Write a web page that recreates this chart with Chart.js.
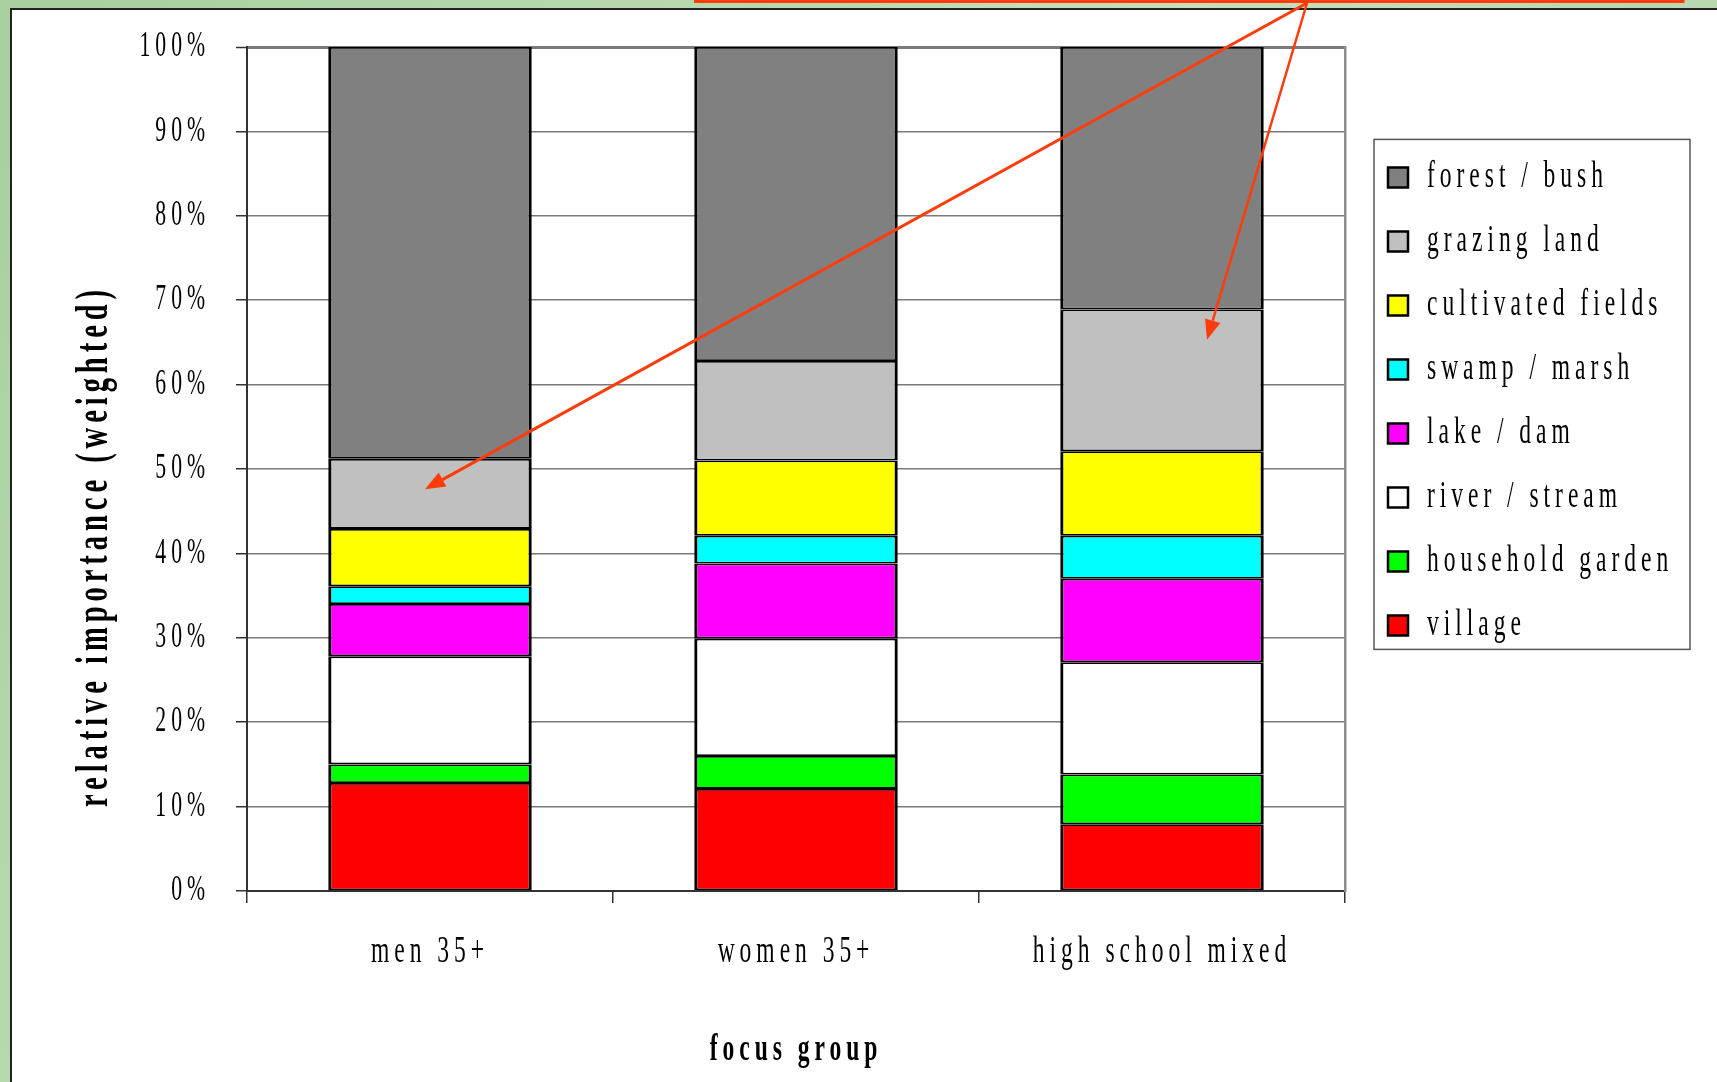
<!DOCTYPE html>
<html>
<head>
<meta charset="utf-8">
<title>relative importance by focus group</title>
<script src="https://cdn.jsdelivr.net/npm/chart.js@4/dist/chart.umd.min.js"></script>
<style>
  html, body { margin: 0; padding: 0; overflow: hidden; background: #b7d6ae; }
  canvas { display: block; }
</style>
</head>
<body>
<canvas id="landscape" width="1717" height="1082"></canvas>
<script>
// values, % of weighted importance, bottom segment first
const groups = ['men 35+', 'women 35+', 'high school mixed'];
const village = [12.8, 12.1, 7.9];
const householdGarden = [2.2, 3.9, 5.9];
const riverStream = [12.8, 13.9, 13.3];
const lakeDam = [6.2, 8.9, 9.9];
const swampMarsh = [2.1, 3.3, 5.1];
const cultivatedFields = [6.8, 8.9, 10.0];
const grazingLand = [8.3, 11.8, 16.8];
const forestBush = [48.8, 37.2, 31.1];

const yTitle = 'relative importance (weighted)';
const xTitle = 'focus group';

const serif = "'Liberation Serif', 'Times New Roman', serif";

// the slide uses a tall, narrow, widely spaced serif: squeeze glyphs sideways
const TEXT_SQUEEZE = 0.62;
const TEXT_SPACING = 8;

function squeezeText(ctx) {
    const fill = ctx.fillText;
    const measure = ctx.measureText;
    ctx.fillText = function (text, x, y, maxWidth) {
        this.save();
        this.translate(x, y);
        this.scale(TEXT_SQUEEZE, 1);
        this.letterSpacing = TEXT_SPACING + 'px';
        if (maxWidth === undefined) fill.call(this, text, 0, 0);
        else fill.call(this, text, 0, 0, maxWidth / TEXT_SQUEEZE);
        this.restore();
    };
    ctx.measureText = function (text) {
        const keep = this.letterSpacing;
        this.letterSpacing = '0px';
        const m = measure.call(this, text);
        this.letterSpacing = keep;
        return {
            width: (m.width + String(text).length * TEXT_SPACING) * TEXT_SQUEEZE,
            actualBoundingBoxAscent: m.actualBoundingBoxAscent,
            actualBoundingBoxDescent: m.actualBoundingBoxDescent
        };
    };
}

function segment(label, values, color) {
    return {
        label: label,
        data: values,
        backgroundColor: color,
        borderColor: '#000',
        borderWidth: {top: 1.8, bottom: 1.8, left: 3.2, right: 3.2},
        borderSkipped: false,
        barPercentage: 0.556,
        categoryPercentage: 1
    };
}

// slide backdrop: green texture, white panel, bottom of the callout box
const slide = {
    id: 'slide',
    beforeDraw(chart) {
        const c = chart.ctx;
        const w = chart.width, h = chart.height;
        c.save();
        const g = c.createLinearGradient(0, 0, w, h);
        g.addColorStop(0, '#a7cf9f');
        g.addColorStop(0.5, '#c4dfba');
        g.addColorStop(1, '#a9cea2');
        c.fillStyle = g;
        c.fillRect(0, 0, w, h);
        c.fillStyle = '#fff';
        c.fillRect(11, 9, w, h);
        c.strokeStyle = '#222';
        c.lineWidth = 2;
        c.beginPath();
        c.moveTo(11, h);
        c.lineTo(11, 9);
        c.lineTo(w, 9);
        c.stroke();
        c.strokeStyle = '#ff3c0a';
        c.lineWidth = 3;
        c.strokeRect(695.5, -20, 987.5, 21.5);
        c.restore();
    }
};

function arrow(c, x0, y0, x1, y1, width) {
    const a = Math.atan2(y1 - y0, x1 - x0);
    const len = 20, half = 8;
    const bx = x1 - len * Math.cos(a), by = y1 - len * Math.sin(a);
    c.lineWidth = width;
    c.beginPath();
    c.moveTo(x0, y0);
    c.lineTo(bx, by);
    c.stroke();
    c.beginPath();
    c.moveTo(x1, y1);
    c.lineTo(bx + half * Math.sin(a), by - half * Math.cos(a));
    c.lineTo(bx - half * Math.sin(a), by + half * Math.cos(a));
    c.closePath();
    c.fill();
}

// y title (sits lower than the axis centre on the slide), legend frame,
// and the two callout arrows pointing at grazing land
const callouts = {
    id: 'callouts',
    afterDraw(chart) {
        const c = chart.ctx;
        const hb = chart.legend.legendHitBoxes;
        c.save();
        if (hb && hb.length) {
            const first = hb[0], last = hb[hb.length - 1];
            const x0 = first.left - 14, y0 = first.top - 19;
            const y1 = last.top + last.height + 5;
            c.strokeStyle = '#555';
            c.lineWidth = 1.5;
            c.strokeRect(x0, y0, 316, y1 - y0);
        }

        c.save();
        c.translate(95, 546);
        c.rotate(-Math.PI / 2);
        c.font = 'bold 46px ' + serif;
        c.fillStyle = '#000';
        c.textAlign = 'center';
        c.textBaseline = 'middle';
        c.fillText(yTitle, 0, 0);
        c.restore();

        const xs = chart.scales.x, ys = chart.scales.y;
        c.strokeStyle = '#ff3c0a';
        c.fillStyle = '#ff3c0a';
        arrow(c, 1307, 3, xs.getPixelForValue(0) - 5, ys.getPixelForValue(47.6), 3);
        arrow(c, 1307, 3, xs.getPixelForValue(2) + 45, ys.getPixelForValue(65.3), 2.5);
        c.restore();
    }
};

document.addEventListener('DOMContentLoaded', () => {
    const ctx = document.getElementById('landscape').getContext('2d');
    squeezeText(ctx);

    new Chart(ctx, {
        type: 'bar',
        data: {
            labels: groups,
            datasets: [
                segment('village', village, '#ff0000'),
                segment('household garden', householdGarden, '#00ff00'),
                segment('river / stream', riverStream, '#ffffff'),
                segment('lake / dam', lakeDam, '#ff00ff'),
                segment('swamp / marsh', swampMarsh, '#00ffff'),
                segment('cultivated fields', cultivatedFields, '#ffff00'),
                segment('grazing land', grazingLand, '#c0c0c0'),
                segment('forest / bush', forestBush, '#808080')
            ]
        },
        options: {
            responsive: false,
            animation: false,
            devicePixelRatio: 1,
            layout: {padding: {top: 42, right: 44, bottom: 0, left: 0}},
            scales: {
                x: {
                    stacked: true,
                    grid: {display: true, drawOnChartArea: false, tickLength: 12, color: '#333', lineWidth: 1.5},
                    border: {color: '#333', width: 2},
                    ticks: {color: '#000', font: {family: serif, size: 38}, padding: 26, maxRotation: 0, autoSkip: false},
                    title: {
                        display: true,
                        text: xTitle,
                        color: '#000',
                        font: {family: serif, size: 38, weight: 'bold'},
                        padding: {top: 0, bottom: 9}
                    },
                    afterFit: (s) => { s.height = 191; }
                },
                y: {
                    stacked: true,
                    min: 0,
                    max: 100,
                    grid: {
                        color: '#7a7a7a',
                        lineWidth: (c) => c.tick && c.tick.value === 100 ? 3 : 1.5,
                        tickLength: 11,
                        tickColor: '#333',
                        tickWidth: 1.5
                    },
                    border: {color: '#333', width: 2},
                    ticks: {
                        stepSize: 10,
                        callback: (v) => v + '%',
                        color: '#000',
                        font: {family: serif, size: 35},
                        padding: 26
                    },
                    afterFit: (s) => { s.width = 247; }
                },
                y2: {
                    position: 'right',
                    min: 0,
                    max: 100,
                    grid: {display: false},
                    ticks: {display: false},
                    border: {display: true, color: '#8c8c8c', width: 2.5},
                    afterFit: (s) => { s.width = 17; }
                }
            },
            plugins: {
                legend: {
                    position: 'right',
                    align: 'start',
                    reverse: true,
                    maxWidth: 311,
                    title: {display: true, text: ' ', font: {size: 12}, padding: {top: 76, bottom: 0}},
                    labels: {
                        boxWidth: 20,
                        boxHeight: 20,
                        padding: 26,
                        color: '#000',
                        font: {family: serif, size: 38}
                    }
                },
                tooltip: {enabled: false}
            }
        },
        plugins: [slide, callouts]
    });
});
</script>
</body>
</html>
